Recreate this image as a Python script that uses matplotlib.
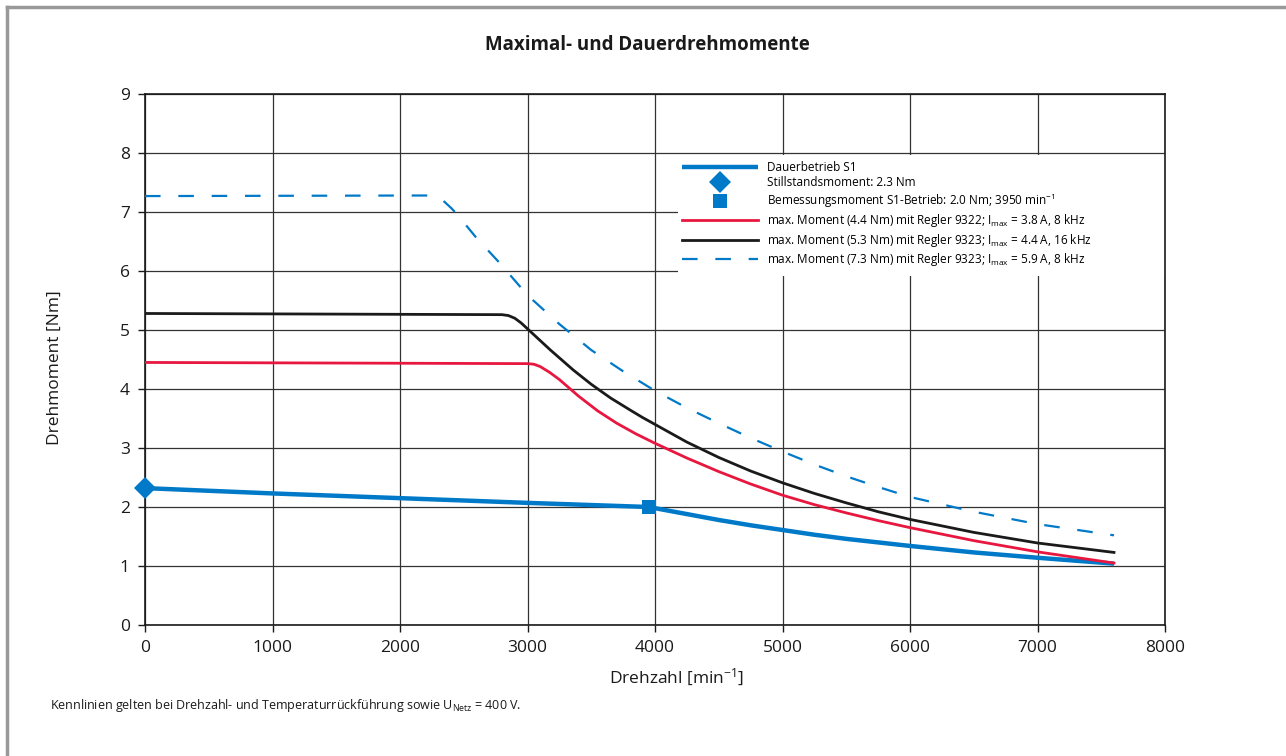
import numpy as np
import matplotlib
matplotlib.use('Agg')
import matplotlib.pyplot as plt
from matplotlib.lines import Line2D
from matplotlib.patches import Rectangle

plt.rcParams['font.family'] = ['Open Sans', 'DejaVu Sans']
plt.rcParams['mathtext.default'] = 'regular'

# ===== Daten =====
# Dauerbetrieb S1
s1_n = [0, 1000, 2000, 3000, 3950, 4250, 4500, 4750, 5000, 5250, 5500, 6000, 6500, 7000, 7600]
s1_m = [2.32, 2.23, 2.15, 2.07, 2.0, 1.88, 1.78, 1.69, 1.61, 1.53, 1.46, 1.34, 1.23, 1.14, 1.04]

# Stillstandsmoment / Bemessungsmoment
still_n, still_m = [0], [2.33]
bem_n, bem_m = [3950], [2.0]

# max. Moment mit Regler 9322 (rot)
red_n = [0, 3000, 3050, 3100, 3175, 3250, 3400, 3550, 3700, 3850, 4000, 4250, 4500,
         4750, 5000, 5250, 5500, 5750, 6000, 6500, 7000, 7600]
red_m = [4.45, 4.43, 4.42, 4.38, 4.28, 4.16, 3.88, 3.63, 3.42, 3.24, 3.08, 2.83, 2.60,
         2.39, 2.20, 2.04, 1.90, 1.77, 1.65, 1.43, 1.24, 1.05]

# max. Moment mit Regler 9323, 16 kHz (schwarz)
blk_n = [0, 2800, 2850, 2900, 2950, 3000, 3090, 3180, 3270, 3360, 3500, 3650, 3800, 3900,
         4000, 4250, 4500, 4750, 5000, 5250, 5500, 5750, 6000, 6500, 7000, 7600]
blk_m = [5.28, 5.26, 5.245, 5.20, 5.12, 5.02, 4.84, 4.66, 4.49, 4.32, 4.08, 3.85, 3.65, 3.52,
         3.40, 3.10, 2.84, 2.61, 2.41, 2.23, 2.07, 1.92, 1.79, 1.57, 1.39, 1.23]

# max. Moment mit Regler 9323, 8 kHz (gestrichelt)
dsh_n = [0, 2250, 2300, 2350, 2400, 2440, 2520, 2600, 2780, 3000, 3250, 3500, 3750, 4000,
         4250, 4500, 4750, 5000, 5250, 5500, 5750, 6000, 6500, 7000, 7600]
dsh_m = [7.27, 7.28, 7.25, 7.17, 7.07, 6.98, 6.77, 6.56, 6.14, 5.59, 5.10, 4.66, 4.30, 3.97,
         3.68, 3.42, 3.17, 2.94, 2.72, 2.52, 2.34, 2.17, 1.92, 1.71, 1.52]

x_ticks = np.arange(0, 8001, 1000)
y_ticks = np.arange(0, 10, 1)

BLUE = '#0079c8'
RED = '#e8173f'
BLACK = '#1a1a1a'

fig = plt.figure(figsize=(12.86, 7.56), dpi=100)
ax = fig.add_axes([145/1286, 1 - 625/756, 1020/1286, 531/756])

ax.plot(s1_n, s1_m, color=BLUE, lw=3.2, solid_capstyle='butt', zorder=3,
        label='Dauerbetrieb S1')
ax.plot(still_n, still_m, ls='none', marker='D', ms=11, color=BLUE, mew=0,
        zorder=6, clip_on=False, label='Stillstandsmoment: 2.3 Nm')
ax.plot(bem_n, bem_m, ls='none', marker='s', ms=10.5, color=BLUE, mew=0,
        zorder=6, label='Bemessungsmoment S1-Betrieb: 2.0 Nm; 3950 min$^{-1}$')
ax.plot(red_n, red_m, color=RED, lw=2.0, zorder=4,
        label='max. Moment (4.4 Nm) mit Regler 9322; I$_{max}$ = 3.8 A, 8 kHz')
ax.plot(blk_n, blk_m, color=BLACK, lw=2.0, zorder=4,
        label='max. Moment (5.3 Nm) mit Regler 9323; I$_{max}$ = 4.4 A, 16 kHz')
ax.plot(dsh_n, dsh_m, color=BLUE, lw=1.6, dashes=(7, 8), zorder=4,
        label='max. Moment (7.3 Nm) mit Regler 9323; I$_{max}$ = 5.9 A, 8 kHz')

ax.set_xlim(0, 8000)
ax.set_ylim(0, 9)
ax.set_xticks(x_ticks)
ax.set_yticks(y_ticks)
ax.tick_params(direction='out', length=5, width=1, labelsize=12.5, colors='#1a1a1a', pad=6)
ax.grid(True, color='#333333', lw=0.9, zorder=1)
ax.set_axisbelow(True)
for sp in ax.spines.values():
    sp.set_color('#1a1a1a')
    sp.set_linewidth(1.2)

ax.set_xlabel('Drehzahl [min$^{-1}$]', fontsize=12.5, color='#1a1a1a')
ax.xaxis.set_label_coords((677 - 145) / 1020, (625 - 667) / 531)
ax.set_ylabel('Drehmoment [Nm]', fontsize=12.5, color='#1a1a1a')
ax.yaxis.set_label_coords((63 - 145) / 1020, (625 - 368) / 531)

# weisser Hintergrund der Legende (verdeckt das Gitter)
ax.add_patch(Rectangle((0.5225, 0.657), 0.4775, 0.228, transform=ax.transAxes,
                       facecolor='white', edgecolor='none', zorder=2))
leg = ax.legend(loc='upper left', bbox_to_anchor=(682/1286, 1 - 161/756),
                bbox_transform=fig.transFigure, frameon=False, fontsize=8.5,
                handlelength=6.4, handletextpad=0.8, labelspacing=0.2,
                borderpad=0, borderaxespad=0)
leg.set_zorder(7)

fig.text(647/1286, 1 - 45/756, 'Maximal- und Dauerdrehmomente', ha='center',
         va='center', fontsize=13.5, fontweight='bold', color='#1a1a1a')
fig.text(50/1286, 1 - 706/756,
         'Kennlinien gelten bei Drehzahl- und Temperaturrückführung sowie U$_{Netz}$ = 400 V.',
         ha='left', va='center', fontsize=9, color='#1a1a1a')

# grauer Rahmen oben und links
fig.add_artist(Line2D([6.5/1286, 1], [1 - 7/756, 1 - 7/756], transform=fig.transFigure,
                      color='#999999', lw=2.5))
fig.add_artist(Line2D([6.5/1286, 6.5/1286], [0, 1 - 7/756], transform=fig.transFigure,
                      color='#999999', lw=2.5))

plt.savefig('out.png', dpi=100)
